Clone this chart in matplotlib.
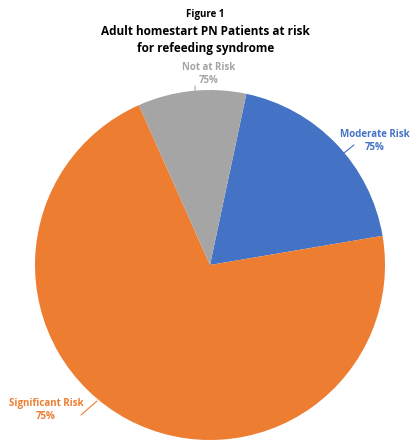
import matplotlib.pyplot as plt

# slice data (clockwise from the blue slice)
categories = ['Moderate Risk', 'Significant Risk', 'Not at Risk']
shares = [19, 71, 10]
label_text = ['75%', '75%', '75%']
colors = ['#4472C4', '#ED7D31', '#A5A5A5']

W, H = 411, 440
fig = plt.figure(figsize=(W / 100, H / 100), dpi=100)

# pie centre (210, 265) px, radius 175 px
cx, cy, r = 210, 265, 175
ax = fig.add_axes([(cx - r) / W, (H - cy - r) / H, 2 * r / W, 2 * r / H])
ax.pie(shares, colors=colors, startangle=78, counterclock=False,
       radius=1, wedgeprops=dict(linewidth=0))
ax.set_xlim(-1, 1)
ax.set_ylim(-1, 1)
ax.set_aspect('equal')
ax.axis('off')

font = 'Open Sans'

def px(x, y):
    # image pixel coords -> data coords of the pie axes
    return ((x - cx) / r, (cy - y) / r)

fig.text(0.5, 1 - 15 / H, 'Figure 1', ha='center', va='center',
         fontsize=7, fontweight='bold', family=font)
fig.text(0.5, 1 - 40 / H, 'Adult homestart PN Patients at risk\nfor refeeding syndrome',
         ha='center', va='center', fontsize=8.5, fontweight='bold',
         family=font, linespacing=1.45)

# label positions (px) and leader lines
label_pos = [(375, 141), (46, 410), (209, 74)]
leaders = [((344, 153), (354, 145)), ((81, 415), (97, 401)), ((195, 86), (195, 94))]

for name, txt, col, (lx, ly), (p0, p1) in zip(categories, label_text, colors,
                                              label_pos, leaders):
    ax.text(*px(lx, ly), f'{name}\n{txt}', ha='center', va='center',
            color=col, fontsize=7, fontweight='bold', family=font,
            linespacing=1.35, clip_on=False)
    ax.annotate('', xy=px(*p1), xytext=px(*p0),
                arrowprops=dict(arrowstyle='-', color=col, lw=0.8,
                                shrinkA=0, shrinkB=0),
                annotation_clip=False)

fig.savefig('out.png', dpi=100)
